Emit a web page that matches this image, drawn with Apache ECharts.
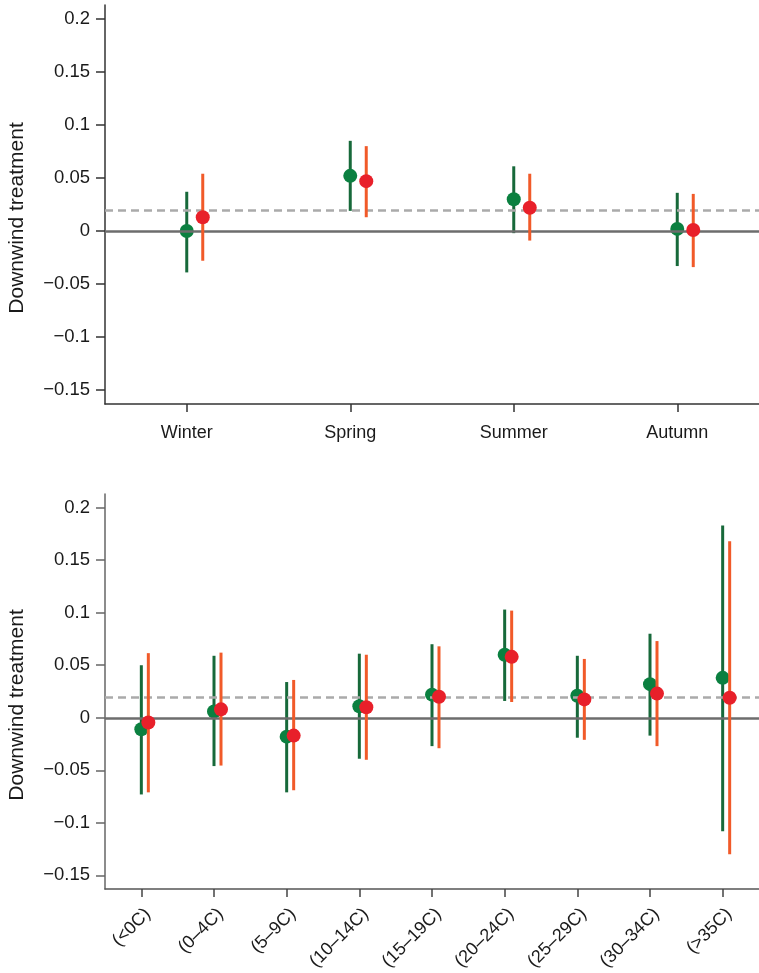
<!DOCTYPE html>
<html>
<head>
<meta charset="utf-8">
<script src="https://cdn.jsdelivr.net/npm/echarts@6/dist/echarts.min.js"></script>
<style>html,body{margin:0;padding:0;background:#fff}#c{width:759px;height:973px}</style>
</head>
<body>
<div id="c"></div>
<script>
// ---- data ----
const seasons = ['Winter', 'Spring', 'Summer', 'Autumn'];
const seasonGreen = [0.000, 0.052, 0.030, 0.002];
const seasonGreenLow = [-0.039, 0.019, -0.002, -0.033];
const seasonGreenHigh = [0.037, 0.085, 0.061, 0.036];
const seasonRed = [0.013, 0.047, 0.022, 0.001];
const seasonRedLow = [-0.028, 0.013, -0.009, -0.034];
const seasonRedHigh = [0.054, 0.080, 0.054, 0.035];

const temps = ['(<0C)', '(0–4C)', '(5–9C)', '(10–14C)', '(15–19C)', '(20–24C)', '(25–29C)', '(30–34C)', '(>35C)'];
const tempGreen = [-0.011, 0.006, -0.018, 0.011, 0.022, 0.060, 0.021, 0.032, 0.038];
const tempGreenLow = [-0.073, -0.046, -0.071, -0.039, -0.027, 0.016, -0.019, -0.017, -0.108];
const tempGreenHigh = [0.050, 0.059, 0.034, 0.061, 0.070, 0.103, 0.059, 0.080, 0.183];
const tempRed = [-0.0045, 0.008, -0.017, 0.010, 0.020, 0.058, 0.0175, 0.023, 0.019];
const tempRedLow = [-0.071, -0.0455, -0.069, -0.040, -0.029, 0.015, -0.021, -0.027, -0.130];
const tempRedHigh = [0.0615, 0.062, 0.036, 0.060, 0.068, 0.102, 0.056, 0.073, 0.168];

const yTicks = [-0.15, -0.1, -0.05, 0, 0.05, 0.1, 0.15, 0.2];
const refLine = 0.019;
const yTitle = 'Downwind treatment';

// ---- styles ----
const FONT = 'Liberation Sans, Arial, Helvetica, sans-serif';
const GREEN_DOT = '#0b8040', GREEN_BAR = '#17693a';
const RED_DOT = '#e8202a', RED_BAR = '#f15a29';

function fmt(v) {
  if (v === 0) return '0';
  const s = String(Math.round(Math.abs(v) * 1000) / 1000);
  return v < 0 ? '\u2212' + s : s;
}

function errRender(dx, color) {
  return function (params, api) {
    const x = api.value(0);
    const lo = api.coord([x, api.value(1)]);
    const hi = api.coord([x, api.value(2)]);
    return {
      type: 'line',
      shape: { x1: lo[0] + dx, y1: lo[1], x2: hi[0] + dx, y2: hi[1] },
      style: { stroke: color, lineWidth: 3 }
    };
  };
}

function yAxisCfg(gi, axisColor) {
  return {
    type: 'value', gridIndex: gi, min: -0.163, max: 0.213,
    splitLine: { show: false },
    axisLine: { show: true, onZero: false, lineStyle: { color: axisColor, width: 1.5 } },
    axisTick: { show: true, length: 9, customValues: yTicks, lineStyle: { color: axisColor, width: 1.5 } },
    axisLabel: { show: true, customValues: yTicks, formatter: fmt, color: '#1a1a1a', fontSize: 18.5, fontFamily: FONT, margin: 15 }
  };
}

function makeSeries(gi, cats, g, gl, gh, r, rl, rh, dxR) {
  const errG = cats.map((c, i) => [i, gl[i], gh[i]]);
  const errR = cats.map((c, i) => [i, rl[i], rh[i]]);
  return [
    {
      type: 'custom', xAxisIndex: gi, yAxisIndex: gi, z: 1,
      renderItem: () => null, data: [],
      markLine: {
        silent: true, symbol: 'none', label: { show: false },
        data: [
          { yAxis: refLine, lineStyle: { color: '#aaaaaa', width: 2.5, type: [8, 5] } },
          { yAxis: 0, lineStyle: { color: '#6d6d6d', width: 2.5, type: 'solid' } }
        ]
      }
    },
    { type: 'custom', xAxisIndex: gi, yAxisIndex: gi, z: 3, renderItem: errRender(0, GREEN_BAR), data: errG },
    { type: 'scatter', xAxisIndex: gi, yAxisIndex: gi, z: 4, symbol: 'circle', symbolSize: 14,
      itemStyle: { color: GREEN_DOT, opacity: 1 }, data: g },
    { type: 'custom', xAxisIndex: gi, yAxisIndex: gi, z: 5, renderItem: errRender(dxR, RED_BAR), data: errR },
    { type: 'scatter', xAxisIndex: gi, yAxisIndex: gi, z: 6, symbol: 'circle', symbolSize: 14,
      symbolOffset: [dxR, 0], itemStyle: { color: RED_DOT, opacity: 1 }, data: r }
  ];
}

const chart = echarts.init(document.getElementById('c'), null, { renderer: 'canvas' });
chart.setOption({
  animation: false,
  backgroundColor: '#ffffff',
  grid: [
    { left: 105, top: 5, width: 664, height: 399 },
    { left: 105, top: 494, width: 664, height: 395 }
  ],
  xAxis: [
    {
      type: 'category', gridIndex: 0, data: seasons, boundaryGap: true, position: 'bottom',
      axisLine: { show: true, onZero: false, lineStyle: { color: '#333', width: 1.5 } },
      axisTick: { show: true, alignWithLabel: true, length: 8, lineStyle: { color: '#333', width: 1.5 } },
      axisLabel: { show: true, color: '#1a1a1a', fontSize: 18, fontFamily: FONT, margin: 20 }
    },
    {
      type: 'category', gridIndex: 1, data: temps, boundaryGap: true, position: 'bottom',
      axisLine: { show: true, onZero: false, lineStyle: { color: '#555', width: 1.5 } },
      axisTick: { show: true, alignWithLabel: true, length: 8, lineStyle: { color: '#444', width: 1.5 } },
      axisLabel: { show: true, color: '#1a1a1a', fontSize: 18, fontFamily: FONT, margin: 16, rotate: 45, interval: 0, verticalAlign: 'top' }
    }
  ],
  yAxis: [yAxisCfg(0, '#333'), yAxisCfg(1, '#666')],
  graphic: [
    { type: 'text', x: 7, y: 218, rotation: Math.PI / 2,
      style: { text: yTitle, fontSize: 21, fontFamily: FONT, fill: '#1a1a1a', align: 'center', verticalAlign: 'top' } },
    { type: 'text', x: 7, y: 705, rotation: Math.PI / 2,
      style: { text: yTitle, fontSize: 21, fontFamily: FONT, fill: '#1a1a1a', align: 'center', verticalAlign: 'top' } }
  ],
  series: [
    ...makeSeries(0, seasons, seasonGreen, seasonGreenLow, seasonGreenHigh, seasonRed, seasonRedLow, seasonRedHigh, 16),
    ...makeSeries(1, temps, tempGreen, tempGreenLow, tempGreenHigh, tempRed, tempRedLow, tempRedHigh, 7)
  ]
});
</script>
</body>
</html>
